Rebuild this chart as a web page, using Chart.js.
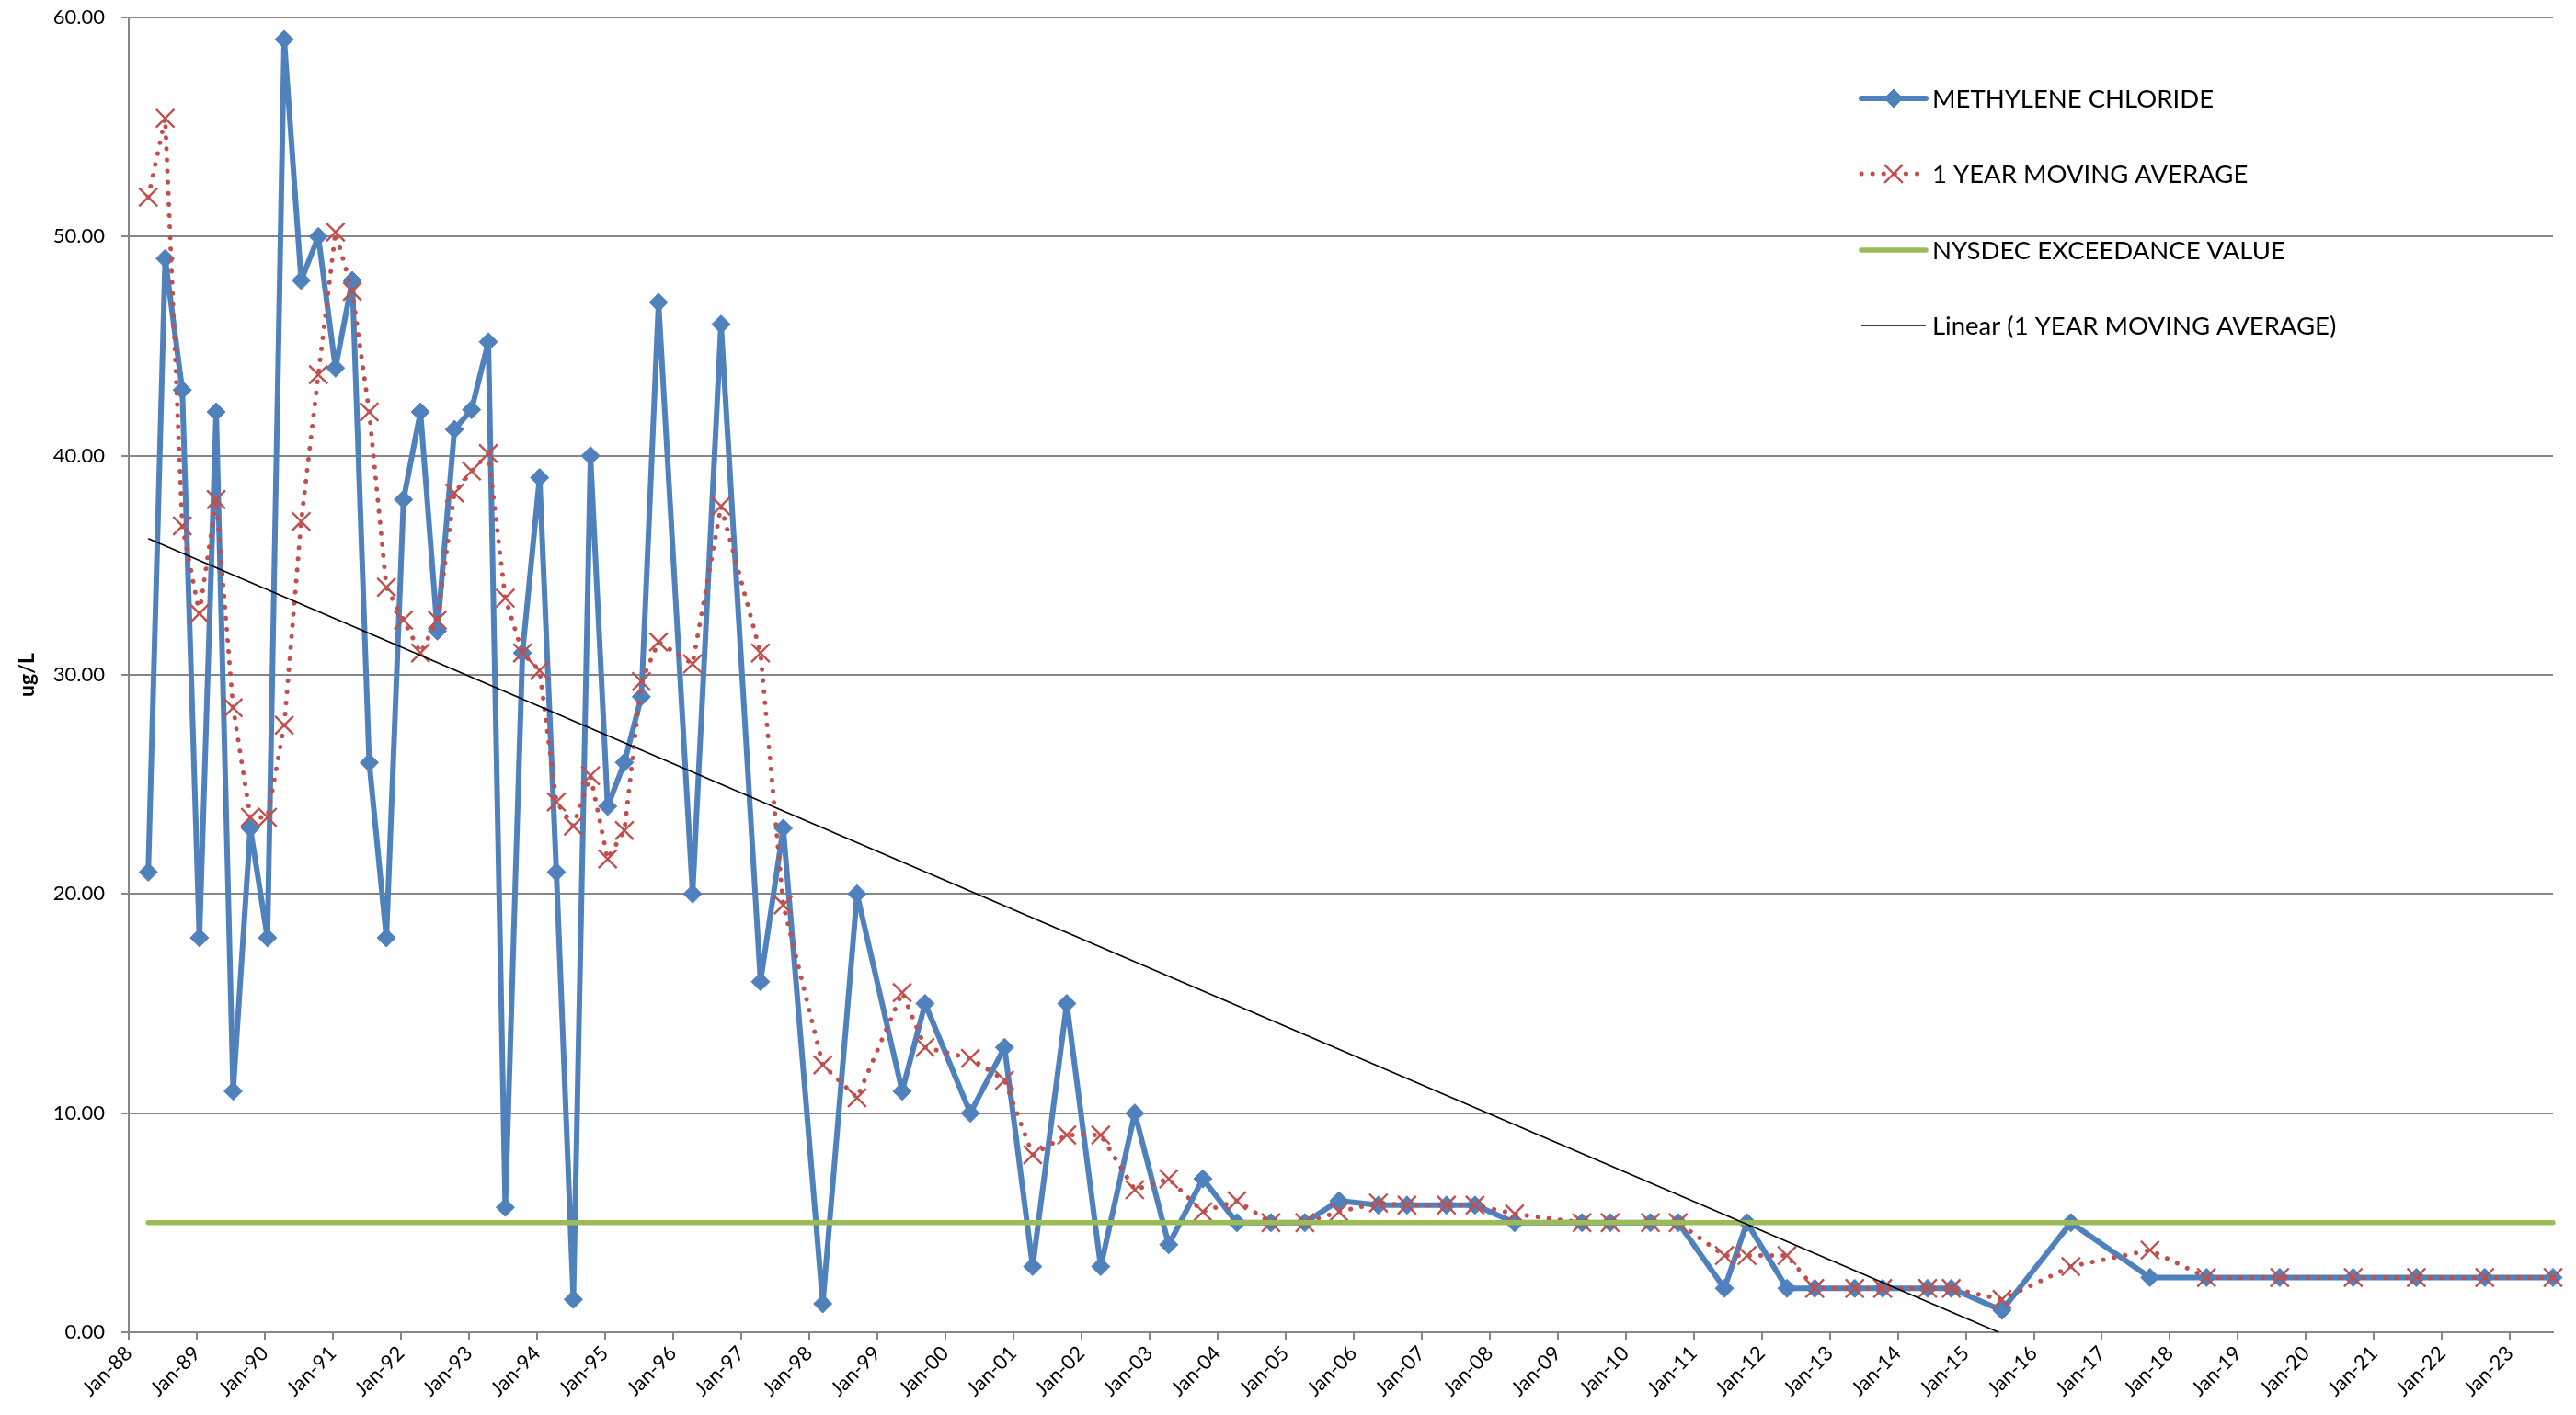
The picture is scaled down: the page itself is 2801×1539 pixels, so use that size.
<!DOCTYPE html>
<html>
<head>
<meta charset="utf-8">
<script src="https://cdn.jsdelivr.net/npm/chart.js@4.4.1/dist/chart.umd.min.js"></script>
<style>
  html, body { margin: 0; padding: 0; background: #ffffff; }
  #wrap { width: 2801px; height: 1539px; }
</style>
</head>
<body>
<div id="wrap"><canvas id="chart" width="2801" height="1539"></canvas></div>
<script>
// Sampling dates of the monitoring well
const sampleDates = [
  '1988-04-15', '1988-07-15', '1988-10-15',
  '1989-01-15', '1989-04-15', '1989-07-15', '1989-10-15',
  '1990-01-15', '1990-04-15', '1990-07-15', '1990-10-15',
  '1991-01-15', '1991-04-15', '1991-07-15', '1991-10-15',
  '1992-01-15', '1992-04-15', '1992-07-15', '1992-10-15',
  '1993-01-15', '1993-04-15', '1993-07-15', '1993-10-15',
  '1994-01-15', '1994-04-15', '1994-07-15', '1994-10-15',
  '1995-01-15', '1995-04-15', '1995-07-15', '1995-10-15',
  '1996-04-15', '1996-09-15',
  '1997-04-15', '1997-08-15',
  '1998-03-15', '1998-09-15',
  '1999-05-15', '1999-09-15',
  '2000-05-15', '2000-11-15',
  '2001-04-15', '2001-10-15',
  '2002-04-15', '2002-10-15',
  '2003-04-15', '2003-10-15',
  '2004-04-15', '2004-10-15',
  '2005-04-15', '2005-10-15',
  '2006-05-15', '2006-10-15',
  '2007-05-15', '2007-10-15',
  '2008-05-15',
  '2009-05-12', '2009-10-10',
  '2010-05-14', '2010-10-10',
  '2011-06-15', '2011-10-14',
  '2012-05-16', '2012-10-12',
  '2013-05-15', '2013-10-12',
  '2014-06-10', '2014-10-15',
  '2015-07-14', '2016-07-18', '2017-09-16', '2018-07-16', '2019-08-13',
  '2020-09-11', '2021-08-16', '2022-08-18', '2023-08-19'
];

// Methylene chloride concentration (ug/L)
const methyleneChloride = [
  21, 49, 43,
  18, 42, 11, 23,
  18, 59, 48, 50,
  44, 48, 26, 18,
  38, 42, 32, 41.2,
  42.1, 45.2, 5.7, 31,
  39, 21, 1.5, 40,
  24, 26, 29, 47,
  20, 46,
  16, 23,
  1.3, 20,
  11, 15,
  10, 13,
  3, 15,
  3, 10,
  4, 7,
  5, 5,
  5, 6,
  5.8, 5.8,
  5.8, 5.8,
  5,
  5, 5,
  5, 5,
  2, 5,
  2, 2,
  2, 2,
  2, 2,
  1, 5, 2.5, 2.5, 2.5, 2.5, 2.5, 2.5, 2.5
];

// 1 year moving average (ug/L)
const movingAverage = [
  51.8, 55.4, 36.8,
  32.8, 38.0, 28.5, 23.5,
  23.5, 27.7, 37.0, 43.7,
  50.2, 47.5, 42.0, 34.0,
  32.5, 31.0, 32.5, 38.3,
  39.3, 40.1, 33.5, 31.0,
  30.2, 24.2, 23.1, 25.4,
  21.6, 22.9, 29.7, 31.5,
  30.5, 37.7,
  31.0, 19.5,
  12.2, 10.7,
  15.5, 13.0,
  12.5, 11.5,
  8.1, 9.0,
  9.0, 6.5,
  7.0, 5.5,
  6.0, 5.0,
  5.0, 5.5,
  5.9, 5.8,
  5.8, 5.8,
  5.4,
  5.0, 5.0,
  5.0, 5.0,
  3.5, 3.5,
  3.5, 2.0,
  2.0, 2.0,
  2.0, 2.0,
  1.5, 3.0, 3.75, 2.5, 2.5, 2.5, 2.5, 2.5, 2.5
];

// NYSDEC exceedance value (ug/L)
const exceedanceValue = 5;

const seriesNames = [
  'METHYLENE CHLORIDE',
  '1 YEAR MOVING AVERAGE',
  'NYSDEC EXCEEDANCE VALUE',
  'Linear (1 YEAR MOVING AVERAGE)'
];

const xTickLabels = [
  'Jan-88', 'Jan-89', 'Jan-90', 'Jan-91', 'Jan-92', 'Jan-93', 'Jan-94', 'Jan-95',
  'Jan-96', 'Jan-97', 'Jan-98', 'Jan-99', 'Jan-00', 'Jan-01', 'Jan-02', 'Jan-03',
  'Jan-04', 'Jan-05', 'Jan-06', 'Jan-07', 'Jan-08', 'Jan-09', 'Jan-10', 'Jan-11',
  'Jan-12', 'Jan-13', 'Jan-14', 'Jan-15', 'Jan-16', 'Jan-17', 'Jan-18', 'Jan-19',
  'Jan-20', 'Jan-21', 'Jan-22', 'Jan-23'
];
const firstTickYear = 1988;

// date string -> fractional year
function toYear(s) {
  const [y, m, d] = s.split('-').map(Number);
  const start = Date.UTC(y, 0, 1), end = Date.UTC(y + 1, 0, 1);
  return y + (Date.UTC(y, m - 1, d) - start) / (end - start);
}

const xs = sampleDates.map(toYear);
const mcPoints = xs.map((x, i) => ({ x, y: methyleneChloride[i] }));
const maPoints = xs.map((x, i) => ({ x, y: movingAverage[i] }));
const limitPoints = xs.map(x => ({ x, y: exceedanceValue }));

// least-squares trend of the moving average, stopped where it reaches zero
function linearTrend(px, py) {
  const n = px.length;
  const mx = px.reduce((a, b) => a + b, 0) / n;
  const my = py.reduce((a, b) => a + b, 0) / n;
  let sxy = 0, sxx = 0;
  for (let i = 0; i < n; i++) { sxy += (px[i] - mx) * (py[i] - my); sxx += (px[i] - mx) ** 2; }
  const slope = sxy / sxx, icpt = my - slope * mx;
  const x0 = px[0];
  let x1 = px[n - 1];
  const xZero = -icpt / slope;
  if (slope < 0 && xZero < x1) x1 = xZero;
  return [{ x: x0, y: icpt + slope * x0 }, { x: x1, y: Math.max(0, icpt + slope * x1) }];
}
const trendPoints = linearTrend(xs, movingAverage);

const BLUE = '#4F81BD', RED = '#C0504D', GREEN = '#9BBB59', GRID = '#868686';
const FONT = 'Lato';

// legend drawn inside the plot area, right side
const insideLegend = {
  id: 'insideLegend',
  afterDraw(chart) {
    const ctx = chart.ctx;
    const rowsY = [107, 189, 272, 354];
    const x0 = 2024, x1 = 2094, xm = 2059, tx = 2101;
    ctx.save();
    chart.data.datasets.forEach((ds, i) => {
      const y = rowsY[i];
      ctx.save();
      ctx.strokeStyle = ds.borderColor;
      ctx.lineWidth = ds.borderWidth;
      ctx.lineCap = ds.borderCapStyle || 'butt';
      ctx.setLineDash(ds.borderDash || []);
      ctx.beginPath();
      ctx.moveTo(x0, y);
      ctx.lineTo(x1, y);
      ctx.stroke();
      ctx.restore();
      if (ds.pointRadius > 0) {
        ctx.save();
        ctx.fillStyle = ds.pointBackgroundColor;
        ctx.strokeStyle = ds.pointBorderColor;
        ctx.lineWidth = ds.pointBorderWidth;
        Chart.helpers.drawPoint(ctx, {
          pointStyle: ds.pointStyle,
          radius: ds.pointRadius,
          borderWidth: ds.pointBorderWidth,
          rotation: 0
        }, xm, y);
        ctx.restore();
      }
      ctx.fillStyle = '#000000';
      ctx.font = '27.5px ' + FONT;
      ctx.textBaseline = 'middle';
      ctx.textAlign = 'left';
      ctx.fillText(ds.label, tx, y + 1);
    });
    ctx.restore();
  }
};

new Chart(document.getElementById('chart'), {
  type: 'line',
  data: {
    datasets: [
      {
        label: seriesNames[0],
        data: mcPoints,
        borderColor: BLUE,
        backgroundColor: BLUE,
        borderWidth: 6,
        borderJoinStyle: 'round',
        borderCapStyle: 'round',
        pointStyle: 'rectRot',
        pointRadius: 10,
        pointBackgroundColor: BLUE,
        pointBorderColor: BLUE,
        pointBorderWidth: 1,
        tension: 0,
        clip: false,
        order: 4
      },
      {
        label: seriesNames[1],
        data: maPoints,
        borderColor: RED,
        backgroundColor: RED,
        borderWidth: 5,
        borderDash: [0.1, 12],
        borderCapStyle: 'round',
        borderJoinStyle: 'round',
        pointStyle: 'crossRot',
        pointRadius: 14,
        pointBackgroundColor: RED,
        pointBorderColor: RED,
        pointBorderWidth: 2.4,
        tension: 0,
        clip: false,
        order: 3
      },
      {
        label: seriesNames[2],
        data: limitPoints,
        borderColor: GREEN,
        backgroundColor: GREEN,
        borderWidth: 5.5,
        borderCapStyle: 'round',
        pointRadius: 0,
        tension: 0,
        clip: false,
        order: 2
      },
      {
        label: seriesNames[3],
        data: trendPoints,
        borderColor: '#000000',
        backgroundColor: '#000000',
        borderWidth: 1.7,
        pointRadius: 0,
        tension: 0,
        clip: false,
        order: 1
      }
    ]
  },
  options: {
    responsive: false,
    animation: false,
    events: [],
    layout: { padding: { top: 19, right: 25, left: 0, bottom: 0 } },
    plugins: {
      legend: { display: false },
      tooltip: { enabled: false }
    },
    scales: {
      x: {
        type: 'linear',
        min: firstTickYear,
        max: xs[xs.length - 1],
        afterFit(scale) { scale.height = 90; },
        grid: { drawOnChartArea: false, drawTicks: true, tickLength: 8, color: GRID, lineWidth: 2 },
        border: { color: GRID, width: 2 },
        ticks: {
          stepSize: 1,
          includeBounds: false,
          autoSkip: false,
          maxRotation: 45,
          minRotation: 45,
          padding: 2,
          color: '#000000',
          font: { family: FONT, size: 22 },
          callback(v) {
            const k = Math.round(v) - firstTickYear;
            return xTickLabels[k] !== undefined ? xTickLabels[k] : '';
          }
        }
      },
      y: {
        min: 0,
        max: 60,
        afterFit(scale) {
          scale.width = 140;
          scale.paddingTop = 0;
          scale.paddingBottom = 0;
        },
        grid: { color: GRID, lineWidth: 2, tickLength: 8 },
        border: { color: GRID, width: 2 },
        ticks: {
          stepSize: 10,
          padding: 18,
          color: '#000000',
          font: { family: FONT, size: 22 },
          callback(v) { return Number(v).toFixed(2); }
        },
        title: {
          display: true,
          text: 'ug/L',
          color: '#000000',
          font: { family: FONT, size: 23, weight: 'bold' },
          padding: { top: 16, bottom: 0 }
        }
      }
    }
  },
  plugins: [insideLegend]
});
</script>
</body>
</html>
